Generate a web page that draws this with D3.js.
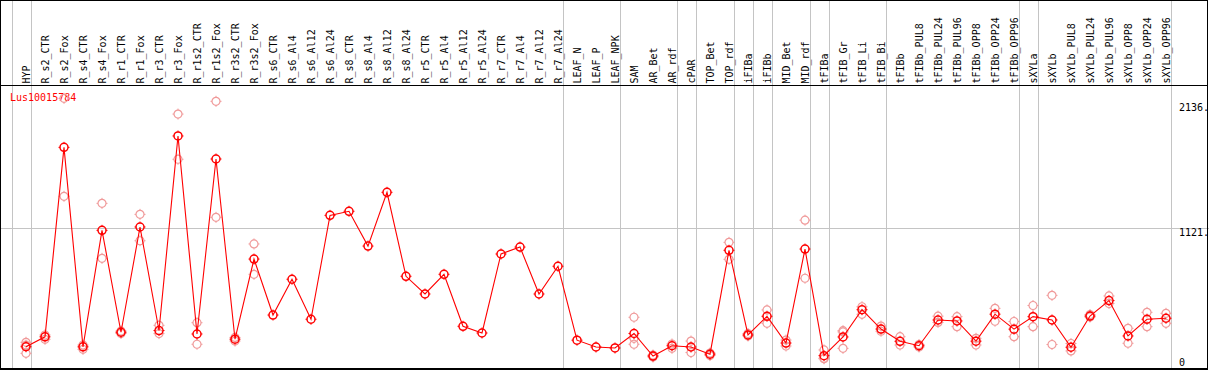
<!DOCTYPE html>
<html>
<head>
<meta charset="utf-8">
<script src="https://cdn.jsdelivr.net/npm/d3@7"></script>
<style>
  html, body { margin: 0; padding: 0; background: #fff; }
  svg { display: block; }
  text { font-family: "DejaVu Sans Mono", "Liberation Mono", monospace; font-size: 10px; }
</style>
</head>
<body>
<svg id="chart" width="1209" height="370"></svg>
<script>
const geneName = "Lus10015784";

const categories = [
  "HYP","R_s2_CTR","R_s2_Fox","R_s4_CTR","R_s4_Fox","R_r1_CTR","R_r1_Fox","R_r3_CTR","R_r3_Fox",
  "R_r1s2_CTR","R_r1s2_Fox","R_r3s2_CTR","R_r3s2_Fox",
  "R_s6_CTR","R_s6_Al4","R_s6_Al12","R_s6_Al24","R_s8_CTR","R_s8_Al4","R_s8_Al12","R_s8_Al24",
  "R_r5_CTR","R_r5_Al4","R_r5_Al12","R_r5_Al24","R_r7_CTR","R_r7_Al4","R_r7_Al12","R_r7_Al24",
  "LEAF_N","LEAF_P","LEAF_NPK","SAM","AR_Bet","AR_rdf","cPAR","TOP_Bet","TOP_rdf",
  "iFIBa","iFIBb","MID_Bet","MID_rdf","tFIBa","tFIB_Gr","tFIB_Li","tFIB_Bi","tFIBb",
  "tFIBb_PUL8","tFIBb_PUL24","tFIBb_PUL96","tFIBb_OPP8","tFIBb_OPP24","tFIBb_OPP96",
  "sXYLa","sXYLb","sXYLb_PUL8","sXYLb_PUL24","sXYLb_PUL96","sXYLb_OPP8","sXYLb_OPP24","sXYLb_OPP96"
];

const meanValues = [
  162, 242, 1772, 161, 1102, 279, 1129, 293, 1864,
  265, 1678, 223, 870,
  418, 707, 384, 1223, 1256, 975, 1409, 731,
  588, 747, 327, 273, 911, 967, 588, 812,
  215, 160, 152, 269, 87, 170, 160, 102, 941,
  257, 408, 192, 951, 90, 241, 461, 305, 206,
  170, 378, 370, 207, 425, 304,
  405, 378, 158, 410, 535, 249, 384, 392
];

const replicateValues = [
  [198, 109, 175], [257, 222], [2168, 1377], [176, 141], [1320, 876], [289, 269], [1231, 1018], [335, 268], [2041, 1676],
  [356, 182], [2144, 1207], [237, 208], [992, 747],
  [], [], [], [], [], [], [], [],
  [], [], [], [], [], [], [], [],
  [], [], [], [400, 230, 182], [95, 79], [184, 149], [208, 115], [111, 91], [1005, 868],
  [269, 249], [459, 351], [216, 168], [1184, 715], [136, 69, 65], [292, 149, 282], [485, 424], [329, 287], [243, 176],
  [180, 160], [409, 358], [405, 324], [230, 176], [472, 368], [366, 243],
  [495, 324], [577, 180], [188, 128], [422, 402], [572, 511], [311, 190], [440, 324], [432, 351]
];

const tickValues = [2136, 1121, 0];
const tickLabels = ["2136.", "1121.", "0"];
const gridValues = [1121];
const separatorAfter = ["HYP","R_r7_Al24","LEAF_NPK","AR_rdf","cPAR","TOP_rdf","iFIBa","iFIBb",
  "MID_rdf","tFIBa","tFIB_Bi","tFIBb_OPP96","sXYLa","sXYLb_OPP96"];

const W = 1209, H = 370;
const headerBottom = 85;
const svg = d3.select("#chart");

const x = d3.scalePoint().domain(categories).range([26, 1166]);
const y = d3.scaleLinear().domain([0, 2136]).range([366.8, 102.3]);
const step = x.step();

svg.append("rect").attr("x", 0).attr("y", 0).attr("width", W).attr("height", H).attr("fill", "#fff");

// vertical separators
const sepX = [x(categories[0]) - step + 4.5].concat(separatorAfter.map(c => x(c) + 4.5));
svg.append("g").selectAll("line").data(sepX).join("line")
  .attr("x1", d => Math.round(d) + 0.5).attr("x2", d => Math.round(d) + 0.5)
  .attr("y1", 0).attr("y2", H)
  .attr("stroke", "#c4c4c4").attr("stroke-width", 1).attr("shape-rendering", "crispEdges");

// horizontal grid
svg.append("g").selectAll("line").data(gridValues).join("line")
  .attr("x1", 0).attr("x2", W)
  .attr("y1", d => Math.round(y(d)) + 0.5).attr("y2", d => Math.round(y(d)) + 0.5)
  .attr("stroke", "#c4c4c4").attr("stroke-width", 1).attr("shape-rendering", "crispEdges");

// frame and header line
svg.append("rect").attr("x", 0.5).attr("y", 0.5).attr("width", 1207).attr("height", 368.5)
  .attr("fill", "none").attr("stroke", "#000").attr("stroke-width", 1.2).attr("shape-rendering", "crispEdges");
svg.append("line").attr("x1", 0).attr("x2", 1208).attr("y1", headerBottom + 0.5).attr("y2", headerBottom + 0.5)
  .attr("stroke", "#000").attr("stroke-width", 1.2).attr("shape-rendering", "crispEdges");

// column labels
svg.append("g").selectAll("text").data(categories).join("text")
  .attr("transform", d => `translate(${x(d) + 4},${headerBottom - 1.5}) rotate(-90)`)
  .attr("text-anchor", "start")
  .attr("fill", "#000")
  .text(d => d);

// right axis labels
svg.append("g").selectAll("text").data(tickValues).join("text")
  .attr("x", 1179)
  .attr("y", d => Math.min(y(d) + 4.7, 362))
  .attr("dominant-baseline", "central")
  .attr("fill", "#000")
  .text((d, i) => tickLabels[i]);

// gene name
svg.append("text").attr("x", 10).attr("y", 97).attr("dominant-baseline", "central")
  .attr("fill", "#ff0000").text(geneName);

// marker helper (circle with small nubs)
function marker(g, color, sw) {
  g.append("circle").attr("r", 4).attr("fill", "none").attr("stroke", color).attr("stroke-width", sw);
  [[0, -4, 0, -5.5], [0, 4, 0, 5.5], [-4, 0, -5.5, 0], [4, 0, 5.5, 0]].forEach(p => {
    g.append("line").attr("x1", p[0]).attr("y1", p[1]).attr("x2", p[2]).attr("y2", p[3])
      .attr("stroke", color).attr("stroke-width", 1);
  });
}

// replicates
const reps = [];
categories.forEach((c, i) => replicateValues[i].forEach(v => reps.push({ c, v })));
svg.append("g").selectAll("g").data(reps).join("g")
  .attr("transform", d => `translate(${x(d.c)},${y(d.v)})`)
  .each(function () { marker(d3.select(this), "#f09a9a", 1.2); });

// mean line
const line = d3.line().x((d, i) => x(categories[i])).y(d => y(d));
svg.append("path").datum(meanValues).attr("d", line)
  .attr("fill", "none").attr("stroke", "#ff0000").attr("stroke-width", 1.1);

// mean markers
svg.append("g").selectAll("g").data(meanValues).join("g")
  .attr("transform", (d, i) => `translate(${x(categories[i])},${y(d)})`)
  .each(function () { marker(d3.select(this), "#ff0000", 1.5); });
</script>
</body>
</html>
